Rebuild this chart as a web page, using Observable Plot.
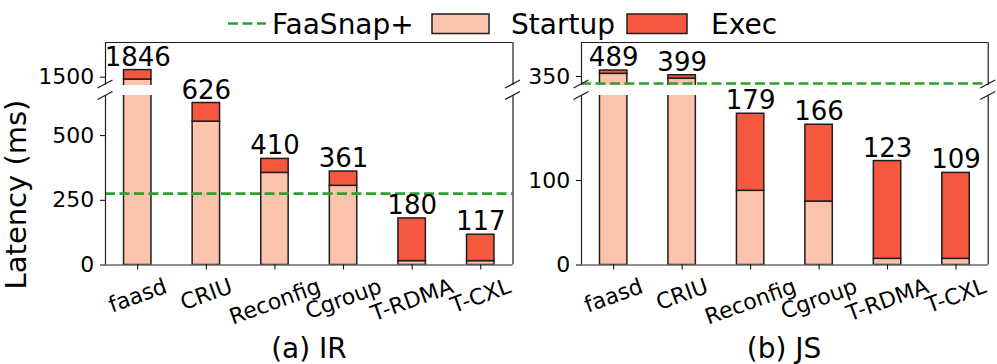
<!DOCTYPE html>
<html><head><meta charset="utf-8">
<script src="https://cdn.jsdelivr.net/npm/d3@7"></script>
<script src="https://cdn.jsdelivr.net/npm/@observablehq/plot@0.6"></script>
<style>
body{margin:0;background:#fff;font-family:"DejaVu Sans",sans-serif;}
#wrap{position:relative;width:997px;height:364px;overflow:hidden;background:#fff;}
#wrap > *{position:absolute;}
</style></head><body><div id="wrap"></div>
<script>
// ---------- data ----------
const categories = ["faasd", "CRIU", "Reconfig", "Cgroup", "T-RDMA", "T-CXL"];
const seriesNames = ["FaaSnap+", "Startup", "Exec"];
// IR (bar heights as drawn; labels are the printed totals)
const irStartup = [1491, 554, 356, 306, 15, 15];
const irExec    = [36, 72, 54, 55, 165, 102];
const irLabels  = [1846, 626, 410, 361, 180, 117];
const irFaasnap = 276;
// JS
const jsStartup = [353.2, 347.6, 87.8, 75.1, 7.3, 7.3];
const jsExec    = [3.9, 3.9, 91.2, 90.9, 115.7, 101.7];
const jsLabels  = [489, 399, 179, 166, 123, 109];
const jsFaasnap = 341.7;
// axis ticks / ranges
const irTicksUpper = [1500];
const irTicksLower = [0, 250, 500];
const jsTicksUpper = [350];
const jsTicksLower = [0, 100];
const irUpperDomain = [1468, 1633];
const irLowerDomain = [0, 655];
const jsUpperDomain = [339.4, 390.2];
const jsLowerDomain = [0, 200.6];
const captions = ["(a) IR", "(b) JS"];
const yLabel = "Latency (ms)";

// ---------- style ----------
const FONT = "DejaVu Sans";
const startupColor = "#fbc3ab";
const execColor = "#f5573f";
const edge = "#1e1e1e";
const green = "#2ca02c";
const xDomain = [-0.47, 5.47];
const barHalf = 0.2;
const tickFont = 22;
const labelFont = 26;

const wrap = document.getElementById("wrap");
const ctx = document.createElement("canvas").getContext("2d");
function textWidth(t, size) { ctx.font = `${size}px "${FONT}"`; return ctx.measureText(t).width; }

function axes({startup, exec, labels, faasnap, domain, ticks, part, left, top, width, height, mL, mR, mT, mB}) {
  const rows = categories.map((c, i) => ({i, c, s: startup[i], t: startup[i] + exec[i], label: labels[i]}));
  const inDomain = rows.filter(d => d.t >= domain[0] && d.t <= domain[1]);
  const marks = [
    Plot.rectY(rows, {x1: d => d.i - barHalf, x2: d => d.i + barHalf, y1: 0, y2: "s", fill: startupColor, stroke: edge, strokeWidth: 1.5, clip: true}),
    Plot.rectY(rows, {x1: d => d.i - barHalf, x2: d => d.i + barHalf, y1: "s", y2: "t", fill: execColor, stroke: edge, strokeWidth: 1.5, clip: true}),
    Plot.ruleY([faasnap], {stroke: green, strokeWidth: 2.6, strokeDasharray: "10,4.5", clip: true}),
    Plot.text(inDomain, {x: "i", y: "t", text: d => String(d.label), lineAnchor: "bottom", dy: -4.5, fontSize: labelFont, fill: "black"}),
    Plot.ruleX(xDomain, {stroke: edge, strokeWidth: 1.2}),
    Plot.ruleY([part === "upper" ? domain[1] : domain[0]], {stroke: edge, strokeWidth: 1.2}),
    Plot.axisY({ticks, tickSize: 5, tickPadding: 6.3, label: null, tickFormat: d => String(d)})
  ];
  if (part === "lower") {
    marks.push(Plot.axisX({ticks: d3.range(categories.length), tickSize: 5, tickFormat: () => "", label: null}));
    const s = Math.sin(20 * Math.PI / 180), c = Math.cos(20 * Math.PI / 180);
    categories.forEach((cat, i) => {
      const dy = 11.5 + (textWidth(cat, tickFont) * s + 0.968 * tickFont * c) / 2 - 1;
      marks.push(Plot.text([cat], {x: () => i, text: d => d, frameAnchor: "bottom", rotate: -20, fontSize: tickFont, textAnchor: "middle", lineAnchor: "middle", dy, fill: "black"}));
    });
  }
  const svg = Plot.plot({
    width, height, marginLeft: mL, marginRight: mR, marginTop: mT, marginBottom: mB,
    x: part === "upper" ? {domain: xDomain, axis: null} : {domain: xDomain},
    y: {domain},
    style: {fontFamily: FONT, fontSize: tickFont + "px", color: "black", background: "transparent", overflow: "visible"},
    marks
  });
  svg.style.left = left + "px";
  svg.style.top = top + "px";
  wrap.appendChild(svg);
  // break marks on the spines
  const g = d3.select(svg).append("g").attr("stroke", edge).attr("stroke-width", 1.3);
  const y = part === "upper" ? height - mB - 1 : mT + 0.5;
  [mL, width - mR].forEach(x => {
    g.append("line").attr("x1", x - 7.5).attr("y1", y + 4).attr("x2", x + 7.5).attr("y2", y - 4);
  });
}

const upperH = 90, lowerTop = 90, lowerH = 274;
const leftPanel = {left: 0, width: 520, mL: 105, mR: 7.5};
const rightPanel = {left: 520, width: 477, mL: 61, mR: 9.3};

axes({...leftPanel, startup: irStartup, exec: irExec, labels: irLabels, faasnap: irFaasnap, domain: irUpperDomain, ticks: irTicksUpper, part: "upper", top: 0, height: upperH, mT: 42, mB: 5});
axes({...leftPanel, startup: irStartup, exec: irExec, labels: irLabels, faasnap: irFaasnap, domain: irLowerDomain, ticks: irTicksLower, part: "lower", top: lowerTop, height: lowerH, mT: 5, mB: 99.5});
axes({...rightPanel, startup: jsStartup, exec: jsExec, labels: jsLabels, faasnap: jsFaasnap, domain: jsUpperDomain, ticks: jsTicksUpper, part: "upper", top: 0, height: upperH, mT: 42, mB: 5});
axes({...rightPanel, startup: jsStartup, exec: jsExec, labels: jsLabels, faasnap: jsFaasnap, domain: jsLowerDomain, ticks: jsTicksLower, part: "lower", top: lowerTop, height: lowerH, mT: 5, mB: 99.5});

// ---------- legend, captions, y label ----------
const over = d3.select(wrap).append("svg").attr("width", 997).attr("height", 364)
  .style("left", "0px").style("top", "0px").style("pointer-events", "none")
  .attr("font-family", FONT);
const legY = 23.5;
over.append("line").attr("x1", 228).attr("x2", 266).attr("y1", legY).attr("y2", legY)
  .attr("stroke", green).attr("stroke-width", 2.6).attr("stroke-dasharray", "10,4.5");
over.append("text").attr("x", 272).attr("y", 33.5).attr("font-size", 28).text(seriesNames[0]);
over.append("rect").attr("x", 432).attr("y", 14).attr("width", 57).attr("height", 19.5)
  .attr("fill", startupColor).attr("stroke", edge).attr("stroke-width", 1.5);
over.append("text").attr("x", 511).attr("y", 33.5).attr("font-size", 28).text(seriesNames[1]);
over.append("rect").attr("x", 627).attr("y", 14).attr("width", 60).attr("height", 19.5)
  .attr("fill", execColor).attr("stroke", edge).attr("stroke-width", 1.5);
over.append("text").attr("x", 711).attr("y", 33.5).attr("font-size", 28).text(seriesNames[2]);

over.append("text").attr("x", 309).attr("y", 357.5).attr("font-size", 28).attr("text-anchor", "middle").text(captions[0]);
over.append("text").attr("x", 784).attr("y", 357.5).attr("font-size", 28).attr("text-anchor", "middle").text(captions[1]);
over.append("text").attr("transform", "translate(25.5,194.5) rotate(-90)").attr("font-size", 29)
  .attr("text-anchor", "middle").text(yLabel);
</script></body></html>
